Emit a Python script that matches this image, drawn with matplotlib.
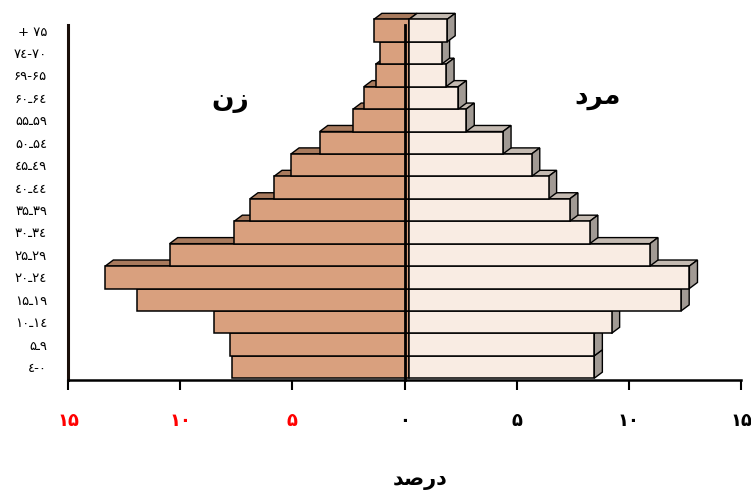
import numpy as np
import matplotlib.pyplot as plt
from matplotlib.patches import Polygon

# age groups, bottom (0-4) to top (75+), written in visual order
ages = ["\u0664-\u06f0", "\u06f5\u0640\u06f9", "\u06f1\u06f0\u0640\u06f1\u0664",
        "\u06f1\u06f5\u0640\u06f1\u06f9", "\u06f2\u06f0\u0640\u06f2\u0664",
        "\u06f2\u06f5\u0640\u06f2\u06f9", "\u06f3\u06f0\u0640\u06f3\u0664",
        "\u06f3\u06f5\u0640\u06f3\u06f9", "\u0664\u06f0\u0640\u0664\u0664",
        "\u0664\u06f5\u0640\u0664\u06f9", "\u06f5\u06f0\u0640\u06f5\u0664",
        "\u06f5\u06f5\u0640\u06f5\u06f9", "\u06f6\u06f0\u0640\u06f6\u0664",
        "\u06f6\u06f9-\u06f6\u06f5", "\u06f7\u0664-\u06f7\u06f0", "+ \u06f7\u06f5"]

# percent of population
female = [7.69, 7.78, 8.49, 11.93, 13.34, 10.47, 7.59, 6.89, 5.82, 5.06, 3.78, 2.29, 1.81, 1.29, 1.11, 1.37]
male = [8.46, 8.46, 9.23, 12.33, 12.70, 10.94, 8.26, 7.37, 6.42, 5.67, 4.39, 2.75, 2.40, 1.85, 1.65, 1.90]

xticks = [-15, -10, -5, 0, 5, 10, 15]
xlabels = ["\u06f1\u06f5", "\u06f1\u06f0", "\u06f5", "\u06f0", "\u06f5", "\u06f1\u06f0", "\u06f1\u06f5"]

# shaped arabic text (visual order)
lbl_f = "\ufee5\ufeaf"            # zan
lbl_m = "\ufea9\ufeae\ufee3"      # mard
lbl_x = "\ufeaa\ufebb\ufead\ufea9"  # darsad

plt.rcParams['font.family'] = ['DejaVu Sans']

fig = plt.figure(figsize=(7.51, 4.91), dpi=100)
ax = fig.add_axes([68/751, 1-380/491, (741-68)/751, (380-25)/491])

y = np.arange(len(ages))
base = 0.2     # bars meet slightly right of the zero line
dx, dy = 0.36, 0.27

f_front, f_top = '#d9a07e', '#a87a5d'
m_front, m_top, m_side = '#f9ece3', '#c4bab1', '#a19a94'

for i in range(len(ages)):
    z = 2 + i * 0.1
    vf = female[i]
    vm = male[i]
    # female
    top = Polygon([(-vf, i+0.5), (base, i+0.5), (base+dx, i+0.5+dy), (-vf+dx, i+0.5+dy)],
                  closed=True, facecolor=f_top, edgecolor='black', lw=1.0, zorder=z, clip_on=False)
    ax.add_patch(top)
    ax.barh(i, -(vf + base), left=base, height=1.0, color=f_front, edgecolor='black',
            lw=1.1, zorder=z+0.05, clip_on=False)
    # male
    top = Polygon([(base, i+0.5), (vm, i+0.5), (vm+dx, i+0.5+dy), (base+dx, i+0.5+dy)],
                  closed=True, facecolor=m_top, edgecolor='black', lw=1.0, zorder=z+0.01, clip_on=False)
    side = Polygon([(vm, i-0.5), (vm+dx, i-0.5+dy), (vm+dx, i+0.5+dy), (vm, i+0.5)],
                   closed=True, facecolor=m_side, edgecolor='black', lw=1.0, zorder=z+0.01, clip_on=False)
    ax.add_patch(top)
    ax.add_patch(side)
    ax.barh(i, vm - base, left=base, height=1.0, color=m_front, edgecolor='black',
            lw=1.1, zorder=z+0.06, clip_on=False)

# zero line
ax.plot([0, 0], [-0.58, 15.25], color='black', lw=2.0, zorder=10, clip_on=False)

ax.set_xlim(-15, 15)
ax.set_ylim(-0.58, 15.25)
ax.set_yticks(y)
ax.set_yticklabels(ages, fontsize=9.5)
ax.tick_params(axis='y', length=0, pad=15)
ax.set_xticks(xticks)
ax.set_xticklabels(xlabels, fontsize=13, fontweight='bold')
for t, v in zip(ax.get_xticklabels(), xticks):
    if v < 0:
        t.set_color('red')
ax.tick_params(axis='x', direction='out', length=7, width=1.5, pad=16)

for s in ['top', 'right']:
    ax.spines[s].set_visible(False)
ax.spines['left'].set_linewidth(2.2)
ax.spines['left'].set_color('#1a0f0a')
ax.spines['bottom'].set_linewidth(1.8)

fig.text(230/751, 1-100/491, lbl_f, fontsize=19, fontweight='bold', ha='center', va='center')
fig.text(598/751, 1-97/491, lbl_m, fontsize=19, fontweight='bold', ha='center', va='center')
fig.text(420/751, 1-480/491, lbl_x, fontsize=15, fontweight='bold', ha='center', va='center')

fig.savefig('out.png', dpi=100)
